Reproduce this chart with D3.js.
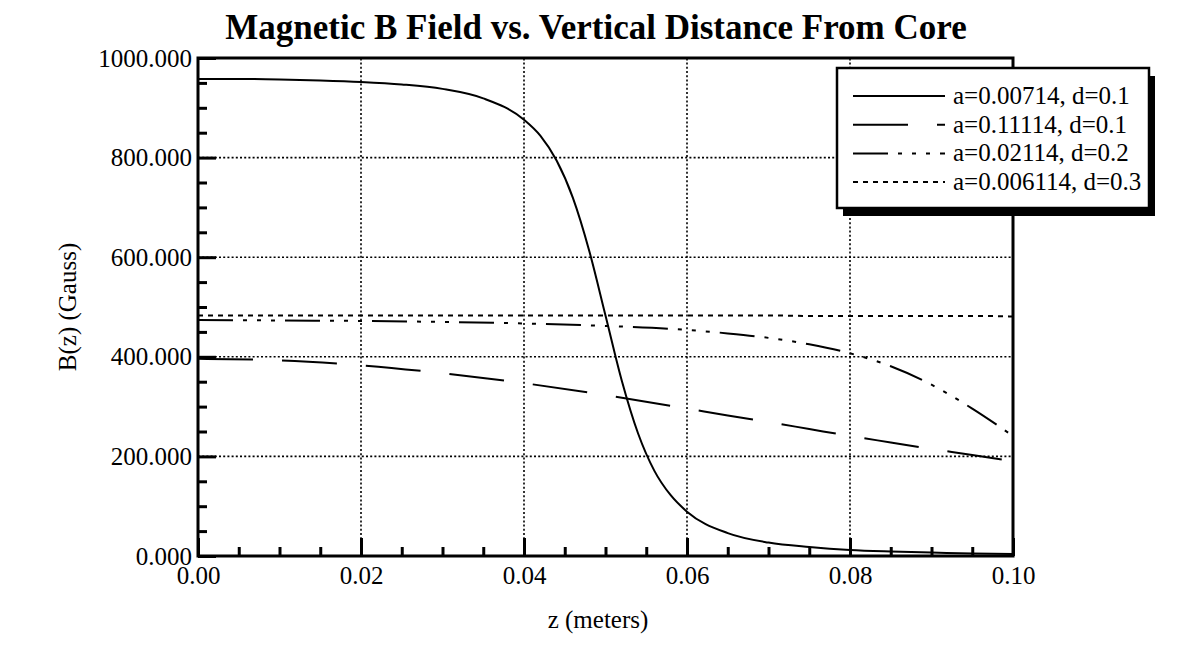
<!DOCTYPE html>
<html>
<head>
<meta charset="utf-8">
<script src="https://cdn.jsdelivr.net/npm/d3@7"></script>
<style>
  body { margin: 0; background: #fff; }
  text { font-family: "Liberation Serif", "Times New Roman", serif; fill: #000; }
</style>
</head>
<body>
<div id="chart"></div>
<script>
'use strict';

// values
const zSolid = [0, 0.005, 0.01, 0.015, 0.02, 0.025, 0.03, 0.035, 0.04, 0.042, 0.044, 0.046, 0.048,
                0.05, 0.052, 0.054, 0.056, 0.058, 0.06, 0.065, 0.07, 0.075, 0.08, 0.085, 0.09, 0.095, 0.1];
const bSolid = [958, 958, 957, 955, 952, 947, 938, 919, 876, 844, 794, 719, 613,
                483, 352, 246, 171, 122, 89, 46, 27, 18, 12, 9, 7, 5, 4];

const zGrid = [0, 0.01, 0.02, 0.03, 0.04, 0.05, 0.06, 0.065, 0.07, 0.075, 0.08, 0.085, 0.09, 0.095, 0.1];
const bLongDash = [396, 393, 383, 367, 347, 323, 296, 282, 269, 255, 241, 228, 215, 203, 190];
const bDashDot  = [474, 473, 472, 470, 467, 462, 454, 447, 438, 425, 407, 381, 344, 296, 241];
const bDotted   = [483, 483, 483, 483, 483, 483, 483, 483, 483, 482, 482, 482, 482, 482, 481];

const seriesNames = ["a=0.00714, d=0.1", "a=0.11114, d=0.1", "a=0.02114, d=0.2", "a=0.006114, d=0.3"];
const dashes = [null, "55,29", "35,10,4,10,4,10,4,10", "5,5"];

const yTicks = [0, 200, 400, 600, 800, 1000];
const xTicks = [0, 0.02, 0.04, 0.06, 0.08, 0.1];

const W = 1184, H = 657;
const margin = {left: 198, right: 171, top: 58, bottom: 101};

const svg = d3.select("#chart")
    .append("svg")
    .attr("width", W)
    .attr("height", H);

const x = d3.scaleLinear().domain([0, 0.1]).range([margin.left, W - margin.right]);
const y = d3.scaleLinear().domain([0, 1000]).range([H - margin.bottom, margin.top]);

const series = [
    {name: seriesNames[0], z: zSolid, b: bSolid, dash: dashes[0]},
    {name: seriesNames[1], z: zGrid, b: bLongDash, dash: dashes[1]},
    {name: seriesNames[2], z: zGrid, b: bDashDot, dash: dashes[2]},
    {name: seriesNames[3], z: zGrid, b: bDotted, dash: dashes[3]}
];

// dotted grid
svg.append("g")
    .selectAll("line")
    .data(yTicks.filter(d => d > 0 && d < 1000))
    .enter()
    .append("line")
    .attr("x1", x(0)).attr("x2", x(0.1))
    .attr("y1", d => y(d)).attr("y2", d => y(d))
    .attr("stroke", "#000").attr("stroke-width", 1.6)
    .attr("stroke-dasharray", "2,2.2");

svg.append("g")
    .selectAll("line")
    .data(xTicks.filter(d => d > 0 && d < 0.1))
    .enter()
    .append("line")
    .attr("x1", d => x(d)).attr("x2", d => x(d))
    .attr("y1", y(0)).attr("y2", y(1000))
    .attr("stroke", "#000").attr("stroke-width", 1.6)
    .attr("stroke-dasharray", "2,2.2");

// curves
const line = d3.line()
    .x(d => x(d[0]))
    .y(d => y(d[1]))
    .curve(d3.curveMonotoneX);

svg.append("g")
    .selectAll("path")
    .data(series)
    .enter()
    .append("path")
    .attr("d", s => line(s.z.map((z, i) => [z, s.b[i]])))
    .attr("fill", "none")
    .attr("stroke", "#000")
    .attr("stroke-width", 2)
    .attr("stroke-dasharray", s => s.dash);

// axes with inward ticks
const yMajor = d3.axisLeft(y).tickValues(yTicks).tickSize(-18).tickFormat(d3.format(".3f")).tickPadding(6);
const yMinor = d3.axisLeft(y).tickValues(d3.range(50, 1000, 50).filter(d => d % 200 !== 0)).tickSize(-9).tickFormat("");
const xMajor = d3.axisBottom(x).tickValues(xTicks).tickSize(-18).tickFormat(d3.format(".2f")).tickPadding(10);
const xMinor = d3.axisBottom(x).tickValues(d3.range(0.005, 0.1, 0.005).filter((d, i) => (i + 1) % 4 !== 0)).tickSize(-9).tickFormat("");

function styleAxis(g) {
    g.select(".domain").remove();
    g.selectAll(".tick line").attr("stroke", "#000").attr("stroke-width", 3);
    g.selectAll(".tick text").attr("font-size", 25).attr("font-family", "Liberation Serif");
}

svg.append("g").attr("transform", `translate(${x(0)},0)`).call(yMajor).call(styleAxis);
svg.append("g").attr("transform", `translate(${x(0)},0)`).call(yMinor).call(styleAxis);
svg.append("g").attr("transform", `translate(0,${y(0)})`).call(xMajor).call(styleAxis);
svg.append("g").attr("transform", `translate(0,${y(0)})`).call(xMinor).call(styleAxis);

// frame
svg.append("path")
    .attr("d", `M${x(0)},${y(0)} L${x(0)},${y(1000)} L${x(0.1)},${y(1000)} L${x(0.1)},${y(0)} Z`)
    .attr("fill", "none")
    .attr("stroke", "#000")
    .attr("stroke-width", 3);

// titles
svg.append("text")
    .attr("x", 596).attr("y", 39)
    .attr("text-anchor", "middle")
    .attr("font-size", 35)
    .attr("font-weight", "bold")
    .text("Magnetic B Field vs. Vertical Distance From Core");

svg.append("text")
    .attr("x", 598).attr("y", 628)
    .attr("text-anchor", "middle")
    .attr("font-size", 25)
    .text("z (meters)");

svg.append("text")
    .attr("transform", "translate(76,307) rotate(-90)")
    .attr("text-anchor", "middle")
    .attr("font-size", 25)
    .text("B(z) (Gauss)");

// legend with drop shadow
const lg = {x: 837, y: 68, w: 312, h: 140, row: 28.7};
const legend = svg.append("g");

legend.append("rect")
    .attr("x", lg.x + 6).attr("y", lg.y + 8)
    .attr("width", lg.w).attr("height", lg.h)
    .attr("fill", "#000");

legend.append("rect")
    .attr("x", lg.x).attr("y", lg.y)
    .attr("width", lg.w).attr("height", lg.h)
    .attr("fill", "#fff")
    .attr("stroke", "#000")
    .attr("stroke-width", 2.5);

const rows = legend.selectAll("g.row")
    .data(series)
    .enter()
    .append("g")
    .attr("class", "row")
    .attr("transform", (d, i) => `translate(0,${lg.y + 28 + i * lg.row})`);

rows.append("line")
    .attr("x1", 853).attr("x2", 945)
    .attr("y1", 0).attr("y2", 0)
    .attr("stroke", "#000")
    .attr("stroke-width", 2)
    .attr("stroke-dasharray", d => d.dash);

rows.append("text")
    .attr("x", 953).attr("y", 8)
    .attr("font-size", 25)
    .text(d => d.name);
</script>
</body>
</html>
